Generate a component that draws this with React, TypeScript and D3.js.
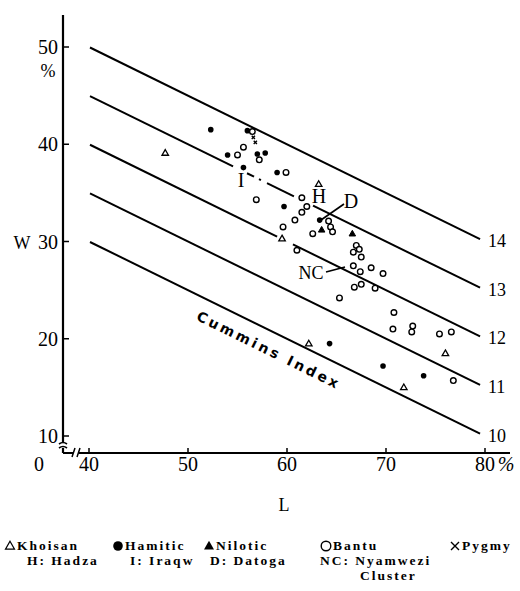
import React from "react";
import * as d3 from "d3";

// Cummins index lines: W at L=40 and at L=80
const indexLabels = ["14", "13", "12", "11", "10"];
const indexW40 = [50, 45, 40, 35, 30];
const indexW80 = [30, 25, 20, 15, 10];
// visible segments of each line (L ranges); gaps where the print is interrupted
const indexSegments: number[][][] = [
  [[40.1, 79.5]],
  [[40.1, 54.55], [55.96, 56.67], [57.17, 57.37], [57.98, 60.7], [62.63, 79.5]],
  [[40.1, 59.0], [60.6, 79.5]],
  [[40.1, 79.5]],
  [[40.1, 79.5]],
];

const xTicks = [40, 50, 60, 70, 80];
const yTicks = [10, 20, 30, 40, 50];

// [L, W]
const khoisan = [
  [47.7, 39.1], [59.5, 30.3], [62.2, 19.5], [76.0, 18.5], [71.8, 15.0], [63.2, 35.9],
];
const hamitic = [
  [52.3, 41.5], [56.0, 41.4], [54.0, 38.9], [57.8, 39.1], [57.0, 39.0], [55.6, 37.6],
  [59.0, 37.1], [59.7, 33.6], [63.3, 32.2], [64.3, 19.5], [69.7, 17.2], [73.8, 16.2],
];
const nilotic = [
  [63.5, 31.2], [66.6, 30.8],
];
const bantu = [
  [56.5, 41.3], [55.0, 38.9], [55.6, 39.7], [57.2, 38.4], [59.9, 37.1], [56.9, 34.3],
  [61.5, 34.5], [62.0, 33.6], [61.5, 33.0], [60.8, 32.2], [59.6, 31.5], [62.6, 30.8],
  [61.0, 29.1], [64.2, 32.1], [64.4, 31.5], [64.6, 31.0], [67.0, 29.6], [67.3, 29.2],
  [66.7, 28.9], [67.5, 28.4], [66.7, 27.5], [68.5, 27.3], [67.4, 26.9], [69.7, 26.7],
  [67.5, 25.6], [66.8, 25.3], [68.9, 25.2], [65.3, 24.2], [70.8, 22.7], [70.7, 21.0],
  [72.7, 21.3], [72.6, 20.7], [75.4, 20.5], [76.6, 20.7], [76.8, 15.7],
];
const pygmy = [
  [56.6, 40.7], [56.8, 40.2],
];

const FONT = "'Liberation Serif', 'Times New Roman', serif";

const x = d3.scaleLinear().domain([40, 80]).range([89, 485]);
const y = d3.scaleLinear().domain([10, 50]).range([436, 47]);

const AXIS_X = 63;
const AXIS_Y = 453;

function triPath(cx: number, cy: number, s: number) {
  const h = s * 0.87;
  return `M${cx},${cy - h * 0.6}L${cx + s / 2},${cy + h * 0.4}L${cx - s / 2},${cy + h * 0.4}Z`;
}

export default function App() {
  const lineW = (i: number, L: number) =>
    indexW40[i] + ((indexW80[i] - indexW40[i]) * (L - 40)) / 40;

  const angle = (Math.atan2(y(20) - y(30), x(60) - x(40)) * 180) / Math.PI;
  const textL = 58.0;
  const textW = 18.8;

  return (
    <svg
      width={520}
      height={591}
      style={{ position: "absolute", left: 0, top: 0, background: "#fff" }}
      fontFamily={FONT}
    >
      <rect width={520} height={591} fill="#fff" />
      {/* axes */}
      <line x1={AXIS_X} y1={15} x2={AXIS_X} y2={AXIS_Y} stroke="#000" strokeWidth={2.2} />
      <line x1={AXIS_X} y1={AXIS_Y} x2={510} y2={AXIS_Y} stroke="#000" strokeWidth={2.2} />
      {/* y break */}
      <rect x={AXIS_X - 4} y={443} width={8} height={5} fill="#fff" />
      <path d={`M${AXIS_X - 4},${444}q4,-3 8,0`} stroke="#000" strokeWidth={1.6} fill="none" />
      <path d={`M${AXIS_X - 4},${448}q4,-3 8,0`} stroke="#000" strokeWidth={1.6} fill="none" />
      {/* x break */}
      <rect x={73} y={AXIS_Y - 4} width={6} height={8} fill="#fff" />
      <line x1={72} y1={AXIS_Y + 4} x2={75} y2={AXIS_Y - 5} stroke="#000" strokeWidth={1.5} />
      <line x1={77} y1={AXIS_Y + 4} x2={80} y2={AXIS_Y - 5} stroke="#000" strokeWidth={1.5} />

      {yTicks.map((t) => (
        <g key={"y" + t}>
          <line x1={AXIS_X} x2={AXIS_X + 6} y1={y(t)} y2={y(t)} stroke="#000" strokeWidth={1.5} />
          <text x={58} y={y(t) + 7} fontSize={20} textAnchor="end">
            {t}
          </text>
        </g>
      ))}
      {xTicks.map((t) => (
        <g key={"x" + t}>
          <line x1={x(t)} x2={x(t)} y1={AXIS_Y} y2={AXIS_Y - 5} stroke="#000" strokeWidth={1.5} />
          <text x={x(t)} y={AXIS_Y + 18} fontSize={20} textAnchor="middle">
            {t}
          </text>
        </g>
      ))}
      <text x={39} y={AXIS_Y + 18} fontSize={20} textAnchor="middle">0</text>
      <text x={506} y={AXIS_Y + 18} fontSize={20} textAnchor="middle" fontStyle="italic">%</text>
      <text x={48} y={77} fontSize={18} textAnchor="middle">%</text>
      <text x={22} y={249} fontSize={18} textAnchor="middle">W</text>
      <text x={284} y={511} fontSize={18} textAnchor="middle">L</text>

      {/* Cummins index lines */}
      {indexSegments.map((segs, i) => (
        <g key={"l" + i}>
          {segs.map((s, j) => (
            <line
              key={j}
              x1={x(s[0])}
              y1={y(lineW(i, s[0]))}
              x2={x(s[1])}
              y2={y(lineW(i, s[1]))}
              stroke="#000"
              strokeWidth={2}
            />
          ))}
          <text x={488} y={y(lineW(i, 79.5)) + 8} fontSize={18}>
            {indexLabels[i]}
          </text>
        </g>
      ))}
      <text
        transform={`translate(${x(textL)},${y(textW)}) rotate(${angle})`}
        textAnchor="middle"
        dominantBaseline="middle"
        fontSize={14}
        fontWeight="bold"
        fontFamily="'DejaVu Sans', sans-serif"
        textLength={156}
        lengthAdjust="spacing"
      >
        Cummins Index
      </text>

      {/* points */}
      {bantu.map((p, i) => (
        <circle key={"b" + i} cx={x(p[0])} cy={y(p[1])} r={2.8} fill="#fff" stroke="#000" strokeWidth={1.4} />
      ))}
      {hamitic.map((p, i) => (
        <circle key={"h" + i} cx={x(p[0])} cy={y(p[1])} r={2.8} fill="#000" />
      ))}
      {khoisan.map((p, i) => (
        <path key={"k" + i} d={triPath(x(p[0]), y(p[1]), 6.5)} fill="#fff" stroke="#000" strokeWidth={1.3} />
      ))}
      {nilotic.map((p, i) => (
        <path key={"n" + i} d={triPath(x(p[0]), y(p[1]), 6.5)} fill="#000" stroke="#000" strokeWidth={1} />
      ))}
      {pygmy.map((p, i) => {
        const cx = x(p[0]);
        const cy = y(p[1]);
        return (
          <path key={"p" + i} d={`M${cx - 1.6},${cy - 1.6}L${cx + 1.6},${cy + 1.6}M${cx + 1.6},${cy - 1.6}L${cx - 1.6},${cy + 1.6}`} stroke="#000" strokeWidth={1.4} />
        );
      })}

      {/* annotations */}
      <text x={241} y={187} fontSize={20} textAnchor="middle">I</text>
      <text x={319} y={203} fontSize={20} textAnchor="middle">H</text>
      <text x={351} y={208} fontSize={20} textAnchor="middle">D</text>
      <line x1={344} y1={204} x2={321} y2={220} stroke="#000" strokeWidth={1.6} />
      <text x={311} y={279} fontSize={18} textAnchor="middle">NC</text>
      <line x1={326} y1={272} x2={345} y2={267} stroke="#000" strokeWidth={1.6} />

      {/* legend */}
      <g fontSize={13.5} fontWeight="bold" letterSpacing={2}>
        <path d={triPath(10, 546, 9)} fill="none" stroke="#000" strokeWidth={1.2} />
        <text x={17} y={550}>Khoisan</text>
        <circle cx={118} cy={546} r={4.8} fill="#000" />
        <text x={125} y={550}>Hamitic</text>
        <path d={triPath(209, 546, 10)} fill="#000" />
        <text x={216} y={550}>Nilotic</text>
        <circle cx={326} cy={546} r={4.8} fill="none" stroke="#000" strokeWidth={1.4} />
        <text x={333} y={550}>Bantu</text>
        <path d="M451,542L459,550M459,542L451,550" stroke="#000" strokeWidth={1.4} />
        <text x={462} y={550}>Pygmy</text>
        <text x={27} y={565}>H: Hadza</text>
        <text x={130} y={565}>I: Iraqw</text>
        <text x={210} y={565}>D: Datoga</text>
        <text x={320} y={565}>NC: Nyamwezi</text>
        <text x={360} y={580}>Cluster</text>
      </g>
    </svg>
  );
}
